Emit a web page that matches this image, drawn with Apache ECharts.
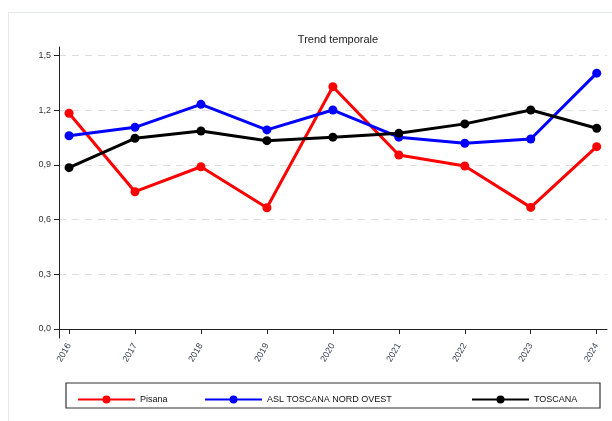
<!DOCTYPE html>
<html>
<head>
<meta charset="utf-8">
<script src="https://cdn.jsdelivr.net/npm/echarts@6/dist/echarts.min.js"></script>
<style>
  body { margin: 0; background: #fff; }
  #frame { position: absolute; left: 8px; top: 12px; width: 604px; height: 409px;
           border-left: 1px solid #e4eaec; border-top: 1px solid #e4eaec; }
  #chart { position: absolute; left: 0; top: 0; width: 612px; height: 421px; }
</style>
</head>
<body>
<div id="frame"></div>
<div id="chart"></div>
<script>
// values
const years = [2016, 2017, 2018, 2019, 2020, 2021, 2022, 2023, 2024];
const pisana = [1.183, 0.753, 0.89, 0.665, 1.329, 0.954, 0.894, 0.667, 1.0];
const aslNordOvest = [1.06, 1.106, 1.232, 1.092, 1.201, 1.052, 1.019, 1.042, 1.403];
const toscana = [0.885, 1.046, 1.086, 1.033, 1.052, 1.073, 1.125, 1.201, 1.101];
const yTicks = [0, 0.3, 0.6, 0.9, 1.2, 1.5];

const FONT = 'Liberation Sans Narrow, Liberation Sans, Arial, sans-serif';

const chart = echarts.init(document.getElementById('chart'));

function mkSeries(name, data, color) {
  return {
    name: name,
    type: 'line',
    xAxisIndex: 0,
    yAxisIndex: 0,
    data: years.map((y, i) => [y, data[i]]),
    symbol: 'circle',
    symbolSize: 9,
    lineStyle: { color: color, width: 3 },
    itemStyle: { color: color },
    animation: false
  };
}

function mkLegend(name, left) {
  return {
    data: [name],
    left: left,
    top: 390,
    itemWidth: 57,
    itemHeight: 10,
    itemGap: 0,
    textStyle: { fontFamily: FONT, fontSize: 9, color: '#111' },
    selectedMode: false
  };
}

chart.setOption({
  backgroundColor: 'transparent',
  title: {
    text: 'Trend temporale',
    left: 333,
    top: 29,
    textAlign: 'center',
    textStyle: { fontFamily: FONT, fontSize: 11, fontWeight: 'normal', color: '#222' }
  },
  grid: [
    { left: 59, right: 5, top: 55.5, bottom: 92 },
    { left: 59, right: 5, top: 47, bottom: 83 }
  ],
  xAxis: [
    {
      gridIndex: 0, type: 'value', min: 2015.848, max: 2024.156,
      axisLine: { show: false }, axisTick: { show: false },
      axisLabel: { show: false }, splitLine: { show: false }
    },
    {
      gridIndex: 1, type: 'value', min: 2015.848, max: 2024.156,
      axisLine: { lineStyle: { color: '#222', width: 1 } },
      axisTick: { customValues: years, length: 5, lineStyle: { color: '#222' } },
      axisLabel: {
        customValues: years, rotate: 60, fontSize: 9, fontFamily: FONT,
        color: '#3a3f55', margin: 6, formatter: v => String(v)
      },
      splitLine: { show: false }
    }
  ],
  yAxis: [
    {
      gridIndex: 0, type: 'value', min: 0, max: 1.5, interval: 0.3,
      axisLine: { show: false },
      axisTick: { show: true, length: 5, lineStyle: { color: '#222' } },
      axisLabel: {
        fontSize: 9, fontFamily: FONT, color: '#333', margin: 8,
        formatter: v => yTicks.includes(+v.toFixed(1)) ? v.toFixed(1).replace('.', ',') : ''
      },
      splitLine: { lineStyle: { color: '#dddddd', type: [7, 6], width: 1 } }
    },
    {
      gridIndex: 1, type: 'value', min: -0.049, max: 1.547,
      axisLine: { show: true, lineStyle: { color: '#222', width: 1 } },
      axisTick: { show: false }, axisLabel: { show: false }, splitLine: { show: false }
    }
  ],
  legend: [
    mkLegend('Pisana', 72),
    mkLegend('ASL TOSCANA NORD OVEST', 199),
    mkLegend('TOSCANA', 466)
  ],
  graphic: [
    {
      type: 'rect',
      shape: { x: 66, y: 383, width: 534, height: 25 },
      style: { fill: 'none', stroke: '#333', lineWidth: 1.2 },
      silent: true
    }
  ],
  series: [
    mkSeries('Pisana', pisana, '#ff0000'),
    mkSeries('ASL TOSCANA NORD OVEST', aslNordOvest, '#0000ff'),
    mkSeries('TOSCANA', toscana, '#000000')
  ]
});
</script>
</body>
</html>
